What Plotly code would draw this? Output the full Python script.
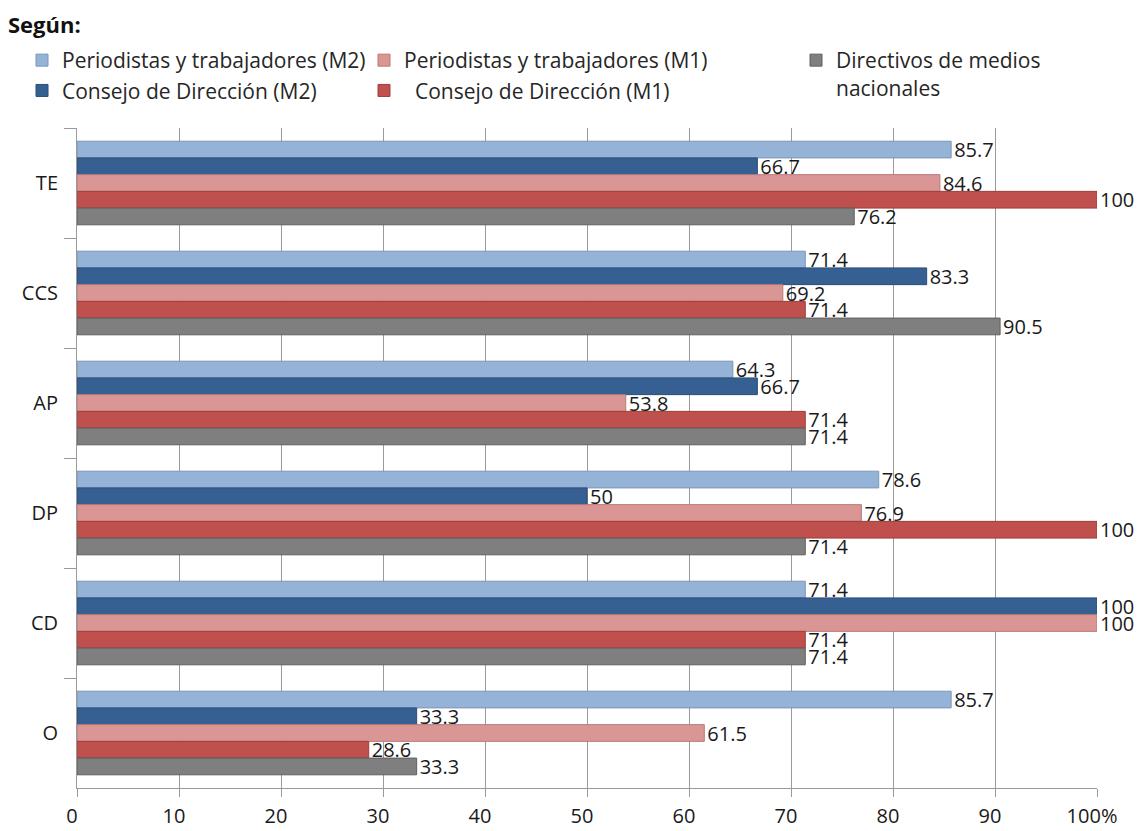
import plotly.graph_objects as go

categories = ["TE", "CCS", "AP", "DP", "CD", "O"]
series_names = [
    "Periodistas y trabajadores (M2)",
    "Consejo de Dirección (M2)",
    "Periodistas y trabajadores (M1)",
    "\u00a0\u00a0Consejo de Dirección (M1)",
    "Directivos de medios<br>nacionales",
]
periodistas_m2 = [85.7, 71.4, 64.3, 78.6, 71.4, 85.7]
consejo_m2 = [66.7, 83.3, 66.7, 50, 100, 33.3]
periodistas_m1 = [84.6, 69.2, 53.8, 76.9, 100, 61.5]
consejo_m1 = [100, 71.4, 71.4, 100, 71.4, 28.6]
directivos = [76.2, 90.5, 71.4, 71.4, 71.4, 33.3]
tick_values = [0, 10, 20, 30, 40, 50, 60, 70, 80, 90, 100]
tick_labels = ["0", "10", "20", "30", "40", "50", "60", "70", "80", "90", "100%"]

series_values = [periodistas_m2, consejo_m2, periodistas_m1, consejo_m1, directivos]
colors = ["#95B3D7", "#366092", "#DA9694", "#C0504D", "#7F7F7F"]
edge_colors = ["#7A95B8", "#2A4D78", "#B87A78", "#9E3E3B", "#5F5F5F"]
legend_ids = ["legend", "legend", "legend2", "legend2", "legend3"]

FONT = "Open Sans"

fig = go.Figure()
for name, vals, c, ec, lg in zip(series_names, series_values, colors, edge_colors, legend_ids):
    fig.add_trace(go.Bar(
        y=categories, x=vals, name=name, orientation="h",
        marker=dict(color=c, line=dict(color=ec, width=1)),
        text=[f"{v:g}" for v in vals], texttemplate="%{text}", textposition="outside",
        textfont=dict(family=FONT, size=20, color="#1a1a1a"),
        cliponaxis=False, constraintext="none",
        legend=lg,
    ))

legend_common = dict(
    orientation="v", xref="container", yref="container",
    xanchor="left", yanchor="top", valign="top",
    font=dict(family=FONT, size=21, color="#262626"),
    bgcolor="rgba(0,0,0,0)", tracegroupgap=0, itemclick=False,
)

fig.update_layout(
    width=1140, height=831,
    margin=dict(l=77, r=43, t=128, b=43, autoexpand=False),
    paper_bgcolor="white", plot_bgcolor="white",
    barmode="group", bargap=0.24, bargroupgap=0,
    title=dict(text="<b>Según:</b>", xref="container", yref="container",
               x=8 / 1140, xanchor="left", y=1 - 25 / 831, yanchor="middle",
               font=dict(family=FONT, size=22, color="#111111")),
    legend=dict(x=22 / 1140, y=1 - 40 / 831, **legend_common),
    legend2=dict(x=364 / 1140, y=1 - 40 / 831, **legend_common),
    legend3=dict(x=796 / 1140, y=1 - 40 / 831, **legend_common),
    xaxis=dict(
        range=[0, 100], tickvals=tick_values, ticktext=tick_labels,
        showgrid=True, gridcolor="#9a9a9a", gridwidth=1,
        showline=True, linecolor="#9a9a9a", linewidth=1,
        ticks="outside", ticklen=8, tickcolor="#9a9a9a",
        ticklabelshift=-5, ticklabelstandoff=2,
        tickfont=dict(family=FONT, size=20, color="#1a1a1a"),
        zeroline=False, fixedrange=True,
    ),
    yaxis=dict(
        categoryorder="array", categoryarray=categories, autorange="reversed",
        tickson="boundaries", ticks="outside", ticklen=12, tickcolor="#9a9a9a",
        showline=True, linecolor="#9a9a9a", linewidth=1, showgrid=False,
        ticklabelstandoff=14,
        tickfont=dict(family=FONT, size=20, color="#1a1a1a"),
        fixedrange=True,
    ),
)

fig.write_html("out.html")
